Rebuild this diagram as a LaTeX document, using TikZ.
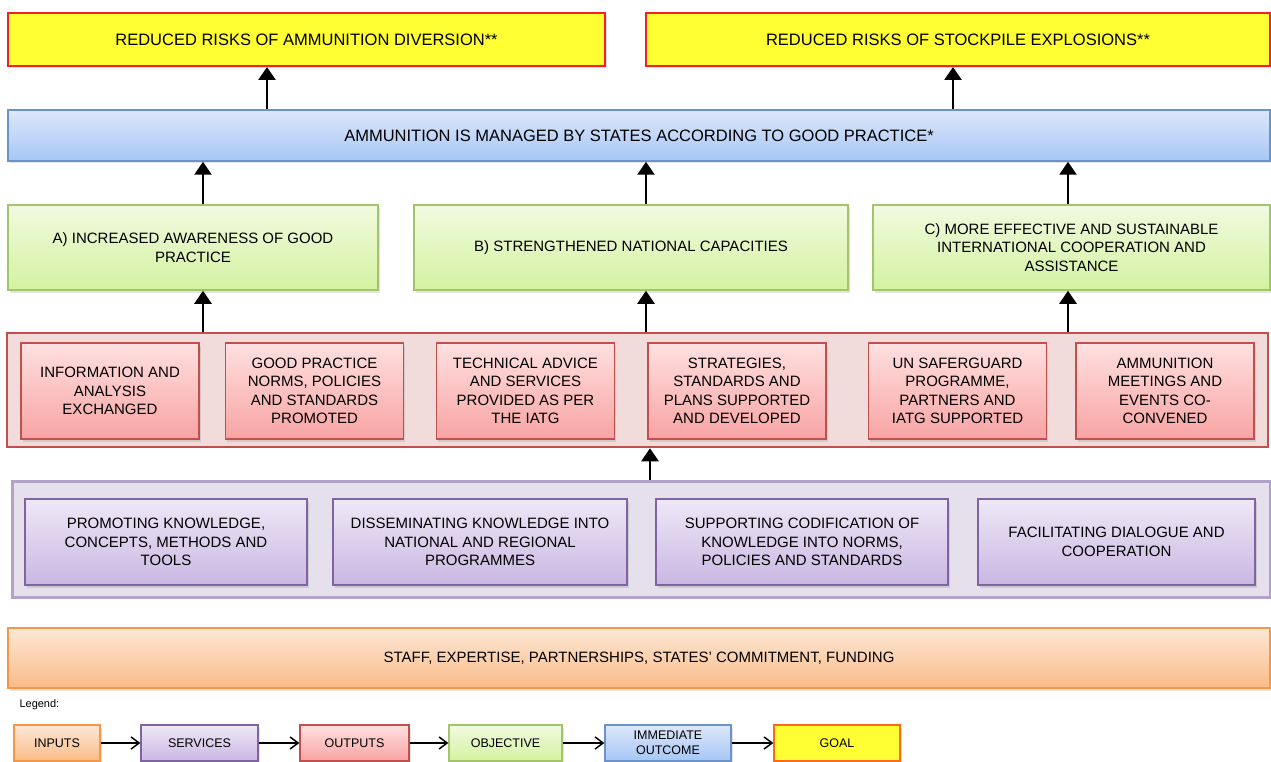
\documentclass[tikz,border=0pt]{standalone}
\usepackage{fontspec}
\setmainfont{Liberation Sans}
\usetikzlibrary{arrows.meta,shadows}
\definecolor{goalFill}{HTML}{FFFF33}
\definecolor{goalLine}{HTML}{F2202A}
\definecolor{blueTop}{HTML}{DDE7F9}
\definecolor{blueBot}{HTML}{A6C6F6}
\definecolor{blueLine}{HTML}{6A94C9}
\definecolor{greenTop}{HTML}{F1FAE0}
\definecolor{greenBot}{HTML}{D4F2A0}
\definecolor{greenLine}{HTML}{A3C46A}
\definecolor{redFrame}{HTML}{F1DCDB}
\definecolor{redLine}{HTML}{C0504D}
\definecolor{redTop}{HTML}{FFE0E0}
\definecolor{redBot}{HTML}{F8A3A3}
\definecolor{purpleFrame}{HTML}{E5E0EC}
\definecolor{purpleFrameLine}{HTML}{B3A2C7}
\definecolor{purpleTop}{HTML}{EEE8F7}
\definecolor{purpleBot}{HTML}{C9B7E2}
\definecolor{purpleLine}{HTML}{8064A2}
\definecolor{orangeTop}{HTML}{FDE7D5}
\definecolor{orangeBot}{HTML}{FABC88}
\definecolor{orangeLine}{HTML}{F79646}
\definecolor{legendGoalLine}{HTML}{FF6A1A}
\begin{document}
\begin{tikzpicture}
[x=1pt,y=-1pt,
  boxDecorate/.style={shape=rectangle,draw,inner sep=0pt,align=center,
    font=\fontsize{15}{18.5}\selectfont,
    drop shadow={opacity=0.22,shadow xshift=1.5pt,shadow yshift=-2.5pt}},%
  goalDecorate/.style={boxDecorate,fill=goalFill,draw=goalLine,line width=2pt,
    font=\fontsize{16.5}{19}\selectfont},%
  outcomeDecorate/.style={boxDecorate,top color=blueTop,bottom color=blueBot,
    draw=blueLine,line width=1.5pt,font=\fontsize{16.5}{19}\selectfont},%
  objectiveDecorate/.style={boxDecorate,top color=greenTop,bottom color=greenBot,
    draw=greenLine,line width=1.5pt},%
  outputDecorate/.style={boxDecorate,top color=redTop,bottom color=redBot,
    draw=redLine,line width=1.3pt},%
  serviceDecorate/.style={boxDecorate,top color=purpleTop,bottom color=purpleBot,
    draw=purpleLine,line width=1.3pt},%
  inputDecorate/.style={boxDecorate,top color=orangeTop,bottom color=orangeBot,
    draw=orangeLine,line width=1.5pt},%
  legendGoalDecorate/.style={goalDecorate,draw=legendGoalLine},%
  legendDecorate/.style={font=\fontsize{12.5}{15}\selectfont,drop shadow={opacity=0}},%
  arrowDecorate/.style={-{Triangle[width=17pt,length=13pt]},line width=2.6pt},%
  legendArrowDecorate/.style={-{Straight Barb[width=12pt,length=8pt,line width=1.5pt]},line width=1.5pt}]
\useasboundingbox (0,0) rectangle (1271,762);
%% goals
\node (goalA) at (306.5,39.5) [goalDecorate,minimum width=597pt,minimum height=53pt]
  {REDUCED RISKS OF AMMUNITION DIVERSION**};
\node (goalB) at (958,39.5) [goalDecorate,minimum width=624pt,minimum height=53pt]
  {REDUCED RISKS OF STOCKPILE EXPLOSIONS**};
%% immediate outcome
\node (outcome) at (639,135.5) [outcomeDecorate,minimum width=1262pt,minimum height=51pt]
  {AMMUNITION IS MANAGED BY STATES ACCORDING TO GOOD PRACTICE*};
%% objectives
\foreach \nodename/\x/\w/\nodetext in {
  objA/193/370/{A) INCREASED AWARENESS OF GOOD\\PRACTICE},
  objB/631/434/{B) STRENGTHENED NATIONAL CAPACITIES},
  objC/1071.5/397/{C) MORE EFFECTIVE AND SUSTAINABLE\\INTERNATIONAL COOPERATION AND\\ASSISTANCE}}
{
  \node (\nodename) at (\x,247.5) [objectiveDecorate,minimum width=\w pt,minimum height=85pt] {\nodetext};
}
%% outputs
\node (outputs) at (637.5,390) [draw=redLine,fill=redFrame,line width=2.5pt,
  minimum width=1261pt,minimum height=114pt] {};
\foreach \nodename/\x/\nodetext in {
  out1/110/{INFORMATION AND\\ANALYSIS\\EXCHANGED},
  out2/314.5/{GOOD PRACTICE\\NORMS, POLICIES\\AND STANDARDS\\PROMOTED},
  out3/525.5/{TECHNICAL ADVICE\\AND SERVICES\\PROVIDED AS PER\\THE IATG},
  out4/737/{STRATEGIES,\\STANDARDS AND\\PLANS SUPPORTED\\AND DEVELOPED},
  out5/957.5/{UN SAFERGUARD\\PROGRAMME,\\PARTNERS AND\\IATG SUPPORTED},
  out6/1165/{AMMUNITION\\MEETINGS AND\\EVENTS CO-\\CONVENED}}
{
  \node (\nodename) at (\x,391) [outputDecorate,minimum width=178pt,minimum height=96pt] {\nodetext};
}
%% services
\node (services) at (641,539) [draw=purpleFrameLine,fill=purpleFrame,line width=3pt,
  minimum width=1258pt,minimum height=116pt] {};
\foreach \nodename/\x/\w/\nodetext in {
  srv1/166/282/{PROMOTING KNOWLEDGE,\\CONCEPTS, METHODS AND\\TOOLS},
  srv2/480/294/{DISSEMINATING KNOWLEDGE INTO\\NATIONAL AND REGIONAL\\PROGRAMMES},
  srv3/802/292/{SUPPORTING CODIFICATION OF\\KNOWLEDGE INTO NORMS,\\POLICIES AND STANDARDS},
  srv4/1116.5/277/{FACILITATING DIALOGUE AND\\COOPERATION}}
{
  \node (\nodename) at (\x,542) [serviceDecorate,minimum width=\w pt,minimum height=86pt] {\nodetext};
}
%% inputs
\node (inputs) at (639,658) [inputDecorate,minimum width=1262pt,minimum height=60pt]
  {STAFF, EXPERTISE, PARTNERSHIPS, STATES’ COMMITMENT, FUNDING};
%% columns of the arrows
\coordinate (colG1) at (267,0);
\coordinate (colG2) at (953,0);
\coordinate (colA) at (203,0);
\coordinate (colB) at (646,0);
\coordinate (colC) at (1068,0);
\coordinate (colS) at (650,0);
\draw[arrowDecorate] (colG1 |- outcome.north) -- (colG1 |- goalA.south);
\draw[arrowDecorate] (colG2 |- outcome.north) -- (colG2 |- goalB.south);
\foreach \nodename/\col in {objA/colA, objB/colB, objC/colC}
{
  \draw[arrowDecorate] (\col |- \nodename.north) -- (\col |- outcome.south);
  \draw[arrowDecorate] (\col |- outputs.north) -- (\col |- \nodename.south);
}
\draw[arrowDecorate] (colS |- services.north) -- (colS |- outputs.south);
%% legend
\node (legend) at (16,705) [anchor=west,font=\fontsize{11}{13}\selectfont] {Legend:};
\foreach \nodename/\x/\w/\boxstyle/\nodetext in {
  legIn/57/86/inputDecorate/{INPUTS},
  legSrv/199.5/117/serviceDecorate/{SERVICES},
  legOut/354.5/109/outputDecorate/{OUTPUTS},
  legObj/505.5/113/objectiveDecorate/{OBJECTIVE},
  legOc/668/126/outcomeDecorate/{IMMEDIATE\\OUTCOME},
  legGoal/837/126/legendGoalDecorate/{GOAL}}
{
  \node (\nodename) at (\x,743) [\boxstyle,legendDecorate,line width=1.3pt,
    minimum width=\w pt,minimum height=36pt] {\nodetext};
}
\path
\foreach \startnode/\endnode in {legIn/legSrv, legSrv/legOut, legOut/legObj, legObj/legOc, legOc/legGoal}
{
  (\startnode) edge[legendArrowDecorate] (\endnode)
};
\end{tikzpicture}
\end{document}
